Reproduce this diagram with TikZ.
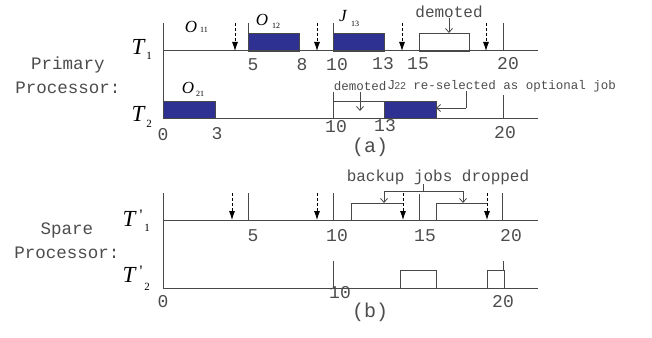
\documentclass[tikz,border=0pt]{standalone}
\usepackage{fontspec}
\setmainfont{Liberation Serif}
\newfontfamily\monof{Liberation Mono}
\newfontfamily\sansf{Liberation Sans}
\usetikzlibrary{arrows.meta}
\definecolor{jobblue}{RGB}{46,49,146}
\definecolor{linegray}{RGB}{72,72,72}
\tikzset{
  axl/.style={draw=linegray, line width=1pt},
  jobbox/.style={draw=linegray, line width=0.9pt, fill=jobblue},
  openbox/.style={draw=linegray, line width=0.9pt, fill=white},
  darr/.style={draw=black, line width=0.8pt, dash pattern=on 3pt off 2pt, -{Latex[length=9pt,width=6pt]}},
  larr/.style={draw=linegray, line width=0.8pt, -{Straight Barb[length=4pt,width=7pt]}},
  plainln/.style={draw=linegray, line width=0.8pt},
  numtxt/.style={font=\monof\fontsize{18}{18}\selectfont, inner sep=0pt, text=black!70},
  sidetxt/.style={font=\monof\fontsize{17.5}{17.5}\selectfont, inner sep=0pt, text=black!70},
  notetxt/.style={font=\monof\fontsize{16}{16}\selectfont, inner sep=0pt, text=black!70},
  smallnote/.style={font=\monof\fontsize{12.5}{12.5}\selectfont, inner sep=0pt, text=black!70},
  captxt/.style={font=\monof\fontsize{20}{20}\selectfont, inner sep=0pt, text=black!70},
  tname/.style={font=\itshape\fontsize{23}{23}\selectfont, inner sep=0pt},
  tsub/.style={font=\fontsize{11}{11}\selectfont, inner sep=0pt},
  tprime/.style={font=\fontsize{16}{16}\selectfont, inner sep=0pt},
  oname/.style={font=\itshape\fontsize{17}{17}\selectfont, inner sep=0pt},
  osub/.style={font=\fontsize{8}{8}\selectfont, inner sep=0pt},
}
\begin{document}
\begin{tikzpicture}[x=1pt,y=-1pt]
\useasboundingbox (0,0) rectangle (652,337);

% ================= (a) Primary processor =================
% axes
\draw[axl] (163,23) -- (163,118);
\draw[axl] (163,51) -- (538,51);
\draw[axl] (163,118) -- (538,118);
% T1 ticks
\draw[axl] (248,23) -- (248,51);
\draw[axl] (333,23) -- (333,51);
\draw[axl] (503,23) -- (503,51);
% T1 boxes
\draw[jobbox] (248,33) rectangle (299,51);
\draw[jobbox] (333,33) rectangle (384,51);
\draw[openbox] (419,33) rectangle (469,51);
\draw[axl] (163,51) -- (538,51);
% T1 dashed arrows
\draw[darr] (235,23) -- (235,51);
\draw[darr] (317,23) -- (317,51);
\draw[darr] (402,23) -- (402,51);
\draw[darr] (486,23) -- (486,51);
% T2 ticks
\draw[axl] (333,92) -- (333,118);
\draw[axl] (503,95) -- (503,118);
% T2 boxes
\draw[jobbox] (163,101) rectangle (215,118);
\draw[openbox] (333,101) rectangle (384,118);
\draw[jobbox] (384,101) rectangle (436,118);
\draw[axl] (163,118) -- (538,118);

% labels T1/T2
\node[tname] (t1) at (138,47) {T};
\node[tsub] (t1s) at (149,56) {1};
\node[tname] (t2) at (138,114) {T};
\node[tsub] (t2s) at (149,124) {2};
% job labels
\node[oname] (o11) at (191,27) {O};
\node[osub] (o11s) at (204,30) {11};
\node[oname] (o12) at (262,20) {O};
\node[osub] (o12s) at (276,26) {12};
\node[oname] (j13) at (343,16) {J};
\node[osub] (j13s) at (355,24) {13};
\node[oname] (o21) at (188,88) {O};
\node[osub] (o21s) at (200,94) {21};

% side label
\node[sidetxt] (prim) at (68,65) {Primary};
\node[sidetxt] (proc1) at (68,88) {Processor:};

% numbers T1
\node[numtxt] (n5a) at (253,65) {5};
\node[numtxt] (n8a) at (302,65) {8};
\node[numtxt] (n10a) at (337,65) {10};
\node[numtxt] (n13a) at (383,64) {13};
\node[numtxt] (n15a) at (418,64) {15};
\node[numtxt] (n20a) at (508,64) {20};
% numbers T2
\node[numtxt] (n0b) at (163,135) {0};
\node[numtxt] (n3b) at (217,134) {3};
\node[numtxt] (n10b) at (336,127) {10};
\node[numtxt] (n13b) at (385,126) {13};
\node[numtxt] (n20b) at (505,133) {20};

% demoted annotations
\node[notetxt] (dem1) at (449,12) {demoted};
\coordinate (dem1t) at (449,33);
\draw[larr] (449,18) -- (dem1t);
\node[smallnote] (dem2) at (360,86) {demoted};
\coordinate (dem2t) at (360,111);
\draw[larr] (360,92) -- (dem2t);
\node[smallnote, anchor=west] (resel) at (388,86) {{\sansf\fontsize{13}{13}\selectfont J\fontsize{10}{10}\selectfont 22} re-selected as optional job};
\coordinate (reselc) at (466,108);
\coordinate (reselt) at (436,108);
\draw[plainln] (466,91) -- (reselc);
\draw[larr] (reselc) -- (reselt);

\node[captxt] (capa) at (370,147) {(a)};

% ================= (b) Spare processor =================
\draw[axl] (163,193) -- (163,288);
\draw[axl] (163,220) -- (538,220);
\draw[axl] (163,288) -- (538,288);
% T'1 ticks
\draw[axl] (248,193) -- (248,220);
\draw[axl] (333,193) -- (333,220);
\draw[axl] (419,194) -- (419,220);
\draw[axl] (502,193) -- (502,220);
% T'1 open boxes
\draw[plainln] (403,203) -- (351,203) -- (351,220);
\draw[plainln] (487,203) -- (436,203) -- (436,220);
% T'1 dashed arrows
\draw[darr] (232,193) -- (232,220);
\draw[darr] (317,193) -- (317,220);
\draw[darr] (403,193) -- (403,220);
\draw[darr] (487,193) -- (487,220);
% T'2 ticks and boxes
\draw[axl] (333,261) -- (333,288);
\draw[axl] (503,261) -- (503,270);
\draw[openbox] (400,270) rectangle (436,288);
\draw[openbox] (487,270) rectangle (504,288);
\draw[axl] (163,288) -- (538,288);

% labels T'1/T'2
\node[tname] (tp1) at (129,219) {T};
\node[tprime] (tp1p) at (141,215) {\textquotesingle};
\node[tsub] (tp1s) at (147,228) {1};
\node[tname] (tp2) at (129,275) {T};
\node[tprime] (tp2p) at (141,271) {\textquotesingle};
\node[tsub] (tp2s) at (147,287) {2};

\node[sidetxt] (spare) at (67,230) {Spare};
\node[sidetxt] (proc2) at (67,253) {Processor:};

% numbers T'1
\node[numtxt] (n5c) at (253,236) {5};
\node[numtxt] (n10c) at (337,236) {10};
\node[numtxt] (n15c) at (425,236) {15};
\node[numtxt] (n20c) at (511,236) {20};
% numbers T'2
\node[numtxt] (n0d) at (163,302) {0};
\node[numtxt] (n10d) at (340,293) {10};
\node[numtxt] (n20d) at (503,302) {20};

% backup jobs dropped
\node[notetxt] (bjd) at (438,177) {backup jobs dropped};
\coordinate (bjm) at (423,191);
\coordinate (bjl) at (384,191);
\coordinate (bjr) at (463,191);
\coordinate (bjlt) at (384,203);
\coordinate (bjrt) at (463,203);
\draw[plainln] (423,184) -- (bjm);
\draw[plainln] (bjl) -- (bjr);
\draw[larr] (bjl) -- (bjlt);
\draw[larr] (bjr) -- (bjrt);

\node[captxt] (capb) at (370,312) {(b)};
\end{tikzpicture}
\end{document}
